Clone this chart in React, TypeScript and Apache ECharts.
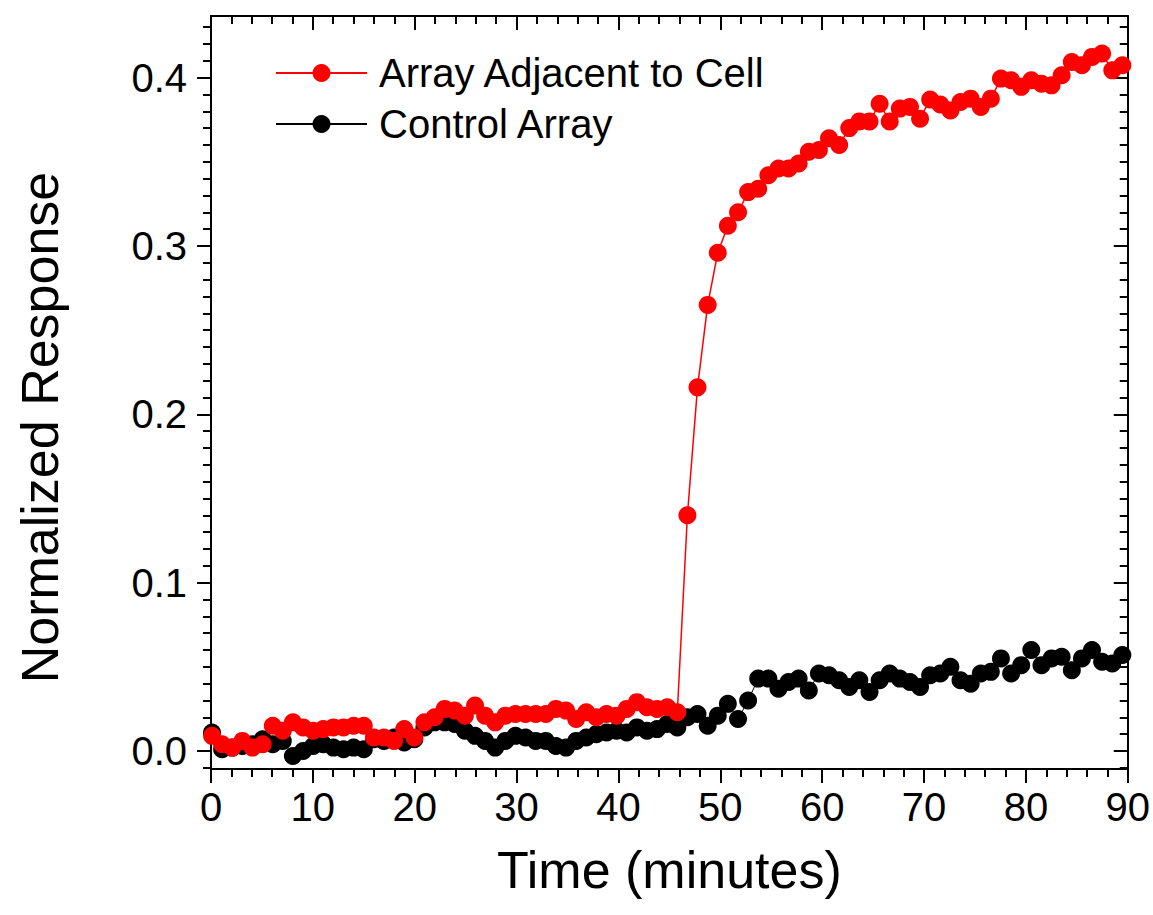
import React, { useEffect, useRef } from "react";
import * as echarts from "echarts";

const times = [
  0.1, 1.09, 2.09, 3.08, 4.07, 5.07, 6.06, 7.05, 8.04, 9.04,
  10.03, 11.02, 12.02, 13.01, 14.0, 15.0, 15.99, 16.98, 17.97, 18.97,
  19.96, 20.95, 21.95, 22.94, 23.93, 24.93, 25.92, 26.91, 27.9, 28.9,
  29.89, 30.88, 31.88, 32.87, 33.86, 34.86, 35.85, 36.84, 37.83, 38.83,
  39.82, 40.81, 41.81, 42.8, 43.79, 44.79, 45.78, 46.77, 47.76, 48.76,
  49.75, 50.74, 51.74, 52.73, 53.72, 54.72, 55.71, 56.7, 57.69, 58.69,
  59.68, 60.67, 61.67, 62.66, 63.65, 64.65, 65.64, 66.63, 67.62, 68.62,
  69.61, 70.6, 71.6, 72.59, 73.58, 74.58, 75.57, 76.56, 77.55, 78.55,
  79.54, 80.53, 81.53, 82.52, 83.51, 84.51, 85.5, 86.49, 87.48, 88.48,
  89.47,
];

const adjacentValues = [
  0.009, 0.004, 0.002, 0.006, 0.002, 0.004, 0.015, 0.012, 0.017, 0.014,
  0.012, 0.013, 0.014, 0.014, 0.015, 0.015, 0.008, 0.008, 0.006, 0.013,
  0.008, 0.017, 0.02, 0.025, 0.024, 0.021, 0.027, 0.021, 0.017, 0.021,
  0.022, 0.022, 0.022, 0.022, 0.025, 0.024, 0.019, 0.023, 0.02, 0.022,
  0.021, 0.025, 0.029, 0.026, 0.025, 0.026, 0.023, 0.14, 0.216, 0.265,
  0.296, 0.312, 0.32, 0.332, 0.334, 0.342, 0.346, 0.346, 0.349, 0.356,
  0.357, 0.364, 0.36, 0.37, 0.374, 0.374, 0.3845, 0.374, 0.3816, 0.3826,
  0.3756, 0.387, 0.384, 0.3805, 0.3855, 0.3875, 0.3826, 0.3875, 0.3994, 0.3984,
  0.3945, 0.3984, 0.3964, 0.3954, 0.4014, 0.4093, 0.4073, 0.4123, 0.4143, 0.4043,
  0.4073,
];

const controlValues = [
  0.011, 0.001, 0.002, 0.003, 0.004, 0.007, 0.004, 0.006, -0.003, 0.0,
  0.003, 0.004, 0.002, 0.001, 0.002, 0.001, 0.007, 0.006, 0.008, 0.005,
  0.007, 0.014, 0.017, 0.017, 0.016, 0.012, 0.009, 0.006, 0.002, 0.006,
  0.009, 0.008, 0.006, 0.006, 0.003, 0.002, 0.006, 0.008, 0.01, 0.011,
  0.012, 0.011, 0.014, 0.012, 0.013, 0.016, 0.014, 0.02, 0.022, 0.015,
  0.021, 0.028, 0.019, 0.03, 0.043, 0.043, 0.037, 0.041, 0.043, 0.036,
  0.046, 0.045, 0.042, 0.038, 0.042, 0.035, 0.042, 0.046, 0.043, 0.041,
  0.038, 0.045, 0.046, 0.05, 0.042, 0.04, 0.046, 0.047, 0.055, 0.046,
  0.051, 0.06, 0.051, 0.055, 0.056, 0.048, 0.055, 0.06, 0.053, 0.052,
  0.057,
];

const seriesNames = ["Array Adjacent to Cell", "Control Array"];
const xTickValues = [0, 10, 20, 30, 40, 50, 60, 70, 80, 90];
const yTickValues = [0, 0.1, 0.2, 0.3, 0.4];
const yTickLabels = ["0.0", "0.1", "0.2", "0.3", "0.4"];

const Y_MIN = -0.0107;
const Y_MAX = 0.4366;
const FONT = "'Liberation Sans', Arial, sans-serif";

const yMinor: number[] = [];
for (let k = -1; k <= 43; k++) {
  if (k % 10 !== 0) yMinor.push(k / 100);
}

export default function App() {
  const ref = useRef<HTMLDivElement>(null);
  useEffect(() => {
    if (!ref.current) return;
    const chart = echarts.init(ref.current, null, { renderer: "svg" });
    const axisLine = { show: true, onZero: false, lineStyle: { color: "#000", width: 2 } };
    const xCommon = {
      type: "value",
      min: xTickValues[0],
      max: xTickValues[xTickValues.length - 1],
      interval: 10,
      splitLine: { show: false },
      axisLine,
      minorTick: { show: true, splitNumber: 5, length: 8, lineStyle: { color: "#000", width: 2 } },
    };
    const yCommon = {
      type: "value",
      min: Y_MIN,
      max: Y_MAX,
      splitLine: { show: false },
    };
    const labelFmt = (v: number) => {
      const i = yTickValues.findIndex((t) => Math.abs(t - v) < 1e-6);
      return i >= 0 ? yTickLabels[i] : "";
    };
    chart.setOption({
      animation: false,
      backgroundColor: "#fff",
      grid: { left: 211, right: 24, top: 16, bottom: 146, containLabel: false },
      legend: {
        orient: "vertical",
        left: 275,
        top: 53,
        itemWidth: 91,
        itemHeight: 22.5,
        itemGap: 11,
        padding: 0,
        data: seriesNames,
        textStyle: { fontSize: 40, color: "#000", fontFamily: FONT, padding: [0, 0, 0, 7] },
      },
      xAxis: [
        {
          ...xCommon,
          position: "bottom",
          axisTick: { show: true, inside: false, length: 14, lineStyle: { color: "#000", width: 2 } },
          axisLabel: { show: true, fontSize: 40, color: "#000", fontFamily: FONT, margin: 18 },
          name: "Time (minutes)",
          nameLocation: "middle",
          nameGap: 75,
          nameTextStyle: { fontSize: 52, color: "#000", fontFamily: FONT },
        },
        {
          ...xCommon,
          position: "top",
          axisTick: { show: true, inside: true, length: 14, lineStyle: { color: "#000", width: 2 } },
          axisLabel: { show: false },
        },
      ],
      yAxis: [
        {
          ...yCommon,
          position: "left",
          axisLine,
          axisTick: { show: true, inside: false, length: 14, customValues: yTickValues, lineStyle: { color: "#000", width: 2 } },
          axisLabel: { show: true, customValues: yTickValues, formatter: labelFmt, fontSize: 40, color: "#000", fontFamily: FONT, margin: 24 },
          name: "Normalized Response",
          nameLocation: "middle",
          nameGap: 145,
          nameTextStyle: { fontSize: 52, color: "#000", fontFamily: FONT, padding: [0, 70, 0, 0] },
        },
        {
          ...yCommon,
          position: "left",
          axisLine: { show: false, onZero: false },
          axisTick: { show: true, inside: false, length: 8, customValues: yMinor, lineStyle: { color: "#000", width: 2 } },
          axisLabel: { show: false },
        },
        {
          ...yCommon,
          position: "right",
          axisLine,
          axisTick: { show: true, inside: true, length: 14, customValues: yTickValues, lineStyle: { color: "#000", width: 2 } },
          axisLabel: { show: false },
        },
        {
          ...yCommon,
          position: "right",
          axisLine: { show: false, onZero: false },
          axisTick: { show: true, inside: true, length: 8, customValues: yMinor, lineStyle: { color: "#000", width: 2 } },
          axisLabel: { show: false },
        },
      ],
      series: [
        {
          name: seriesNames[1],
          type: "line",
          xAxisIndex: 0,
          yAxisIndex: 0,
          data: times.map((t, i) => [t, controlValues[i]]),
          symbol: "circle",
          symbolSize: 18,
          showSymbol: true,
          showAllSymbol: true,
          itemStyle: { color: "#000" },
          lineStyle: { color: "#000", width: 1 },
        },
        {
          name: seriesNames[0],
          type: "line",
          xAxisIndex: 0,
          yAxisIndex: 0,
          data: times.map((t, i) => [t, adjacentValues[i]]),
          symbol: "circle",
          symbolSize: 18,
          showSymbol: true,
          showAllSymbol: true,
          itemStyle: { color: "#ff0000" },
          lineStyle: { color: "#ff0000", width: 1.5 },
        },
      ],
    });
    return () => chart.dispose();
  }, []);
  return (
    <div
      ref={ref}
      style={{ position: "absolute", left: 0, top: 0, width: 1153, height: 915 }}
    />
  );
}
